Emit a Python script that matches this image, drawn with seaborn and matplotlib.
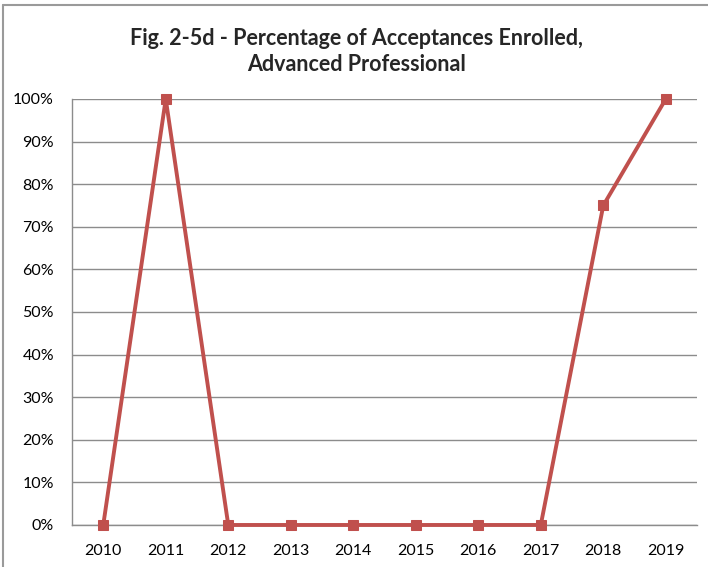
import numpy as np
import pandas as pd
import matplotlib
matplotlib.use("Agg")
import matplotlib.pyplot as plt
import seaborn as sns
from matplotlib.lines import Line2D
from matplotlib.ticker import PercentFormatter

years = ["2010", "2011", "2012", "2013", "2014", "2015", "2016", "2017", "2018", "2019"]
pct_enrolled = [0, 100, 0, 0, 0, 0, 0, 0, 75, 100]
title = "Fig. 2-5d - Percentage of Acceptances Enrolled,\nAdvanced Professional"

df = pd.DataFrame({"year": years, "pct": pct_enrolled})

sns.set_style("white")
plt.rcParams["font.family"] = ["Lato", "DejaVu Sans"]

fig = plt.figure(figsize=(7.08, 5.67), dpi=100)
ax = fig.add_axes([0.1017, 0.0741, 0.8828, 0.7513])

line_color = "#C0504D"
sns.lineplot(data=df, x="year", y="pct", ax=ax, color=line_color, linewidth=2.8,
             marker="s", markersize=7, markeredgecolor=line_color, sort=False,
             clip_on=False, zorder=3)

ax.set_xlim(-0.5, len(years) - 0.5)
ax.set_ylim(0, 100)
ax.set_yticks(np.arange(0, 101, 10))
ax.yaxis.set_major_formatter(PercentFormatter(decimals=0))
ax.yaxis.grid(True, color="#8C8C8C", linewidth=1)
ax.set_axisbelow(True)
ax.set_xlabel("")
ax.set_ylabel("")
ax.tick_params(axis="both", length=0, labelsize=11.5, colors="black")
ax.tick_params(axis="x", pad=14)
ax.tick_params(axis="y", pad=13)

for side in ["top", "right"]:
    ax.spines[side].set_visible(False)
for side in ["left", "bottom"]:
    ax.spines[side].set_color("#8C8C8C")
    ax.spines[side].set_linewidth(1)

fig.text(0.503, 0.909, title, ha="center", va="center", fontsize=15.5,
         fontweight="bold", linespacing=1.3)

# chart border (only top and left visible in the crop)
fig.add_artist(Line2D([0.004, 1.0], [0.992, 0.992], color="#9A9A9A", linewidth=1.5,
                      transform=fig.transFigure))
fig.add_artist(Line2D([0.004, 0.004], [0.0, 0.992], color="#9A9A9A", linewidth=1.5,
                      transform=fig.transFigure))

fig.savefig("out.png", dpi=100)
